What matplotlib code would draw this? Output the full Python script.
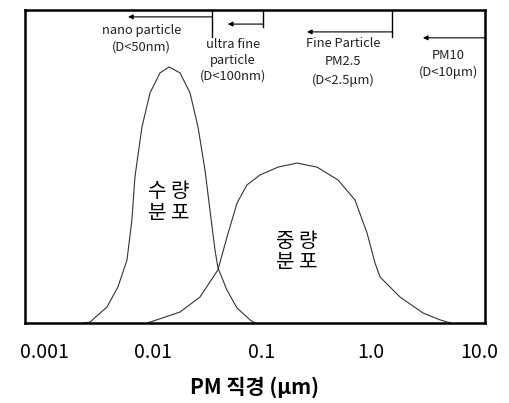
import numpy as np
import matplotlib.pyplot as plt

plt.rcParams['font.family'] = ['Noto Sans CJK KR', 'DejaVu Sans']

# number distribution (diameter in um, relative height)
number_d = [0.0023, 0.00261, 0.00374, 0.00472, 0.00572, 0.00635, 0.00677, 0.00786,
            0.00933, 0.01153, 0.01396, 0.01763, 0.02182, 0.02583, 0.02994, 0.03327,
            0.03704, 0.03945, 0.04776, 0.05906, 0.07787, 0.086]
number_y = [0.0, 0.003, 0.051, 0.115, 0.201, 0.329, 0.466, 0.626,
            0.735, 0.799, 0.818, 0.799, 0.735, 0.626, 0.489, 0.361,
            0.233, 0.176, 0.105, 0.048, 0.010, 0.0]

# mass distribution
mass_d = [0.0088, 0.00993, 0.01763, 0.02692, 0.03945, 0.0478, 0.0591, 0.0729,
          0.0962, 0.141, 0.211, 0.323, 0.504, 0.722, 0.932, 1.104, 1.228,
          1.877, 3.06, 4.39, 5.5]
mass_y = [0.0, 0.006, 0.035, 0.083, 0.170, 0.275, 0.383, 0.441,
          0.473, 0.498, 0.511, 0.498, 0.457, 0.393, 0.288, 0.192, 0.147,
          0.083, 0.032, 0.010, 0.0]

tick_vals = [0.001, 0.01, 0.1, 1.0, 10.0]
tick_labels = ['0.001', '0.01', '0.1', '1.0', '10.0']

class_lines = [
    ['nano particle', '(D<50nm)'],
    ['ultra fine', 'particle', '(D<100nm)'],
    ['Fine Particle', 'PM2.5', '(D<2.5\u03bcm)'],
    ['PM10', '(D<10\u03bcm)'],
]

fig = plt.figure(figsize=(5.1, 4.03), dpi=100)
ax = fig.add_axes([0.049, 0.1985, 0.902, 0.7767])

ax.plot(number_d, number_y, color='#333333', lw=0.8, solid_joinstyle='round')
ax.plot(mass_d, mass_y, color='#333333', lw=0.8, solid_joinstyle='round')

ax.set_xscale('log')
ax.set_xlim(0.000657, 11.4)
ax.set_ylim(0, 1)
ax.set_yticks([])
ax.set_xticks(tick_vals)
ax.set_xticklabels(tick_labels, fontsize=14)
ax.minorticks_off()
ax.tick_params(axis='x', length=0, pad=14)
for s in ax.spines.values():
    s.set_linewidth(1.8)
ax.set_xlabel('PM 직경 (\u03bcm)', fontsize=15, fontweight='bold', labelpad=9)

# category dividers and arrows (axes fraction)
for x, y0 in [(0.4065, 0.914), (0.517, 0.946), (0.798, 0.914)]:
    ax.plot([x, x], [1.0, y0], transform=ax.transAxes, color='black', lw=1.0)
arrows = [(0.4065, 0.224, 0.978), (0.517, 0.441, 0.955),
          (0.798, 0.613, 0.930), (1.0, 0.865, 0.911)]
for x0, x1, y in arrows:
    ax.annotate('', xy=(x1, y), xytext=(x0, y), xycoords='axes fraction',
                arrowprops=dict(arrowstyle='-|>', lw=0.8, color='black',
                                mutation_scale=7, shrinkA=0, shrinkB=0))

text_pos = [(0.254, [0.935, 0.883]),
            (0.452, [0.890, 0.840, 0.790]),
            (0.691, [0.894, 0.834, 0.776]),
            (0.92, [0.856, 0.802])]
for lines, (x, ys) in zip(class_lines, text_pos):
    for t, y in zip(lines, ys):
        ax.text(x, y, t, transform=ax.transAxes, ha='center', va='center',
                fontsize=9.3, color='#222222')

ax.text(0.313, 0.386, '수 량\n분 포', transform=ax.transAxes, ha='center',
        va='center', fontsize=14.5, linespacing=1.05)
ax.text(0.591, 0.227, '중 량\n분 포', transform=ax.transAxes, ha='center',
        va='center', fontsize=14.5, linespacing=1.05)

fig.savefig('out.png', dpi=100)
